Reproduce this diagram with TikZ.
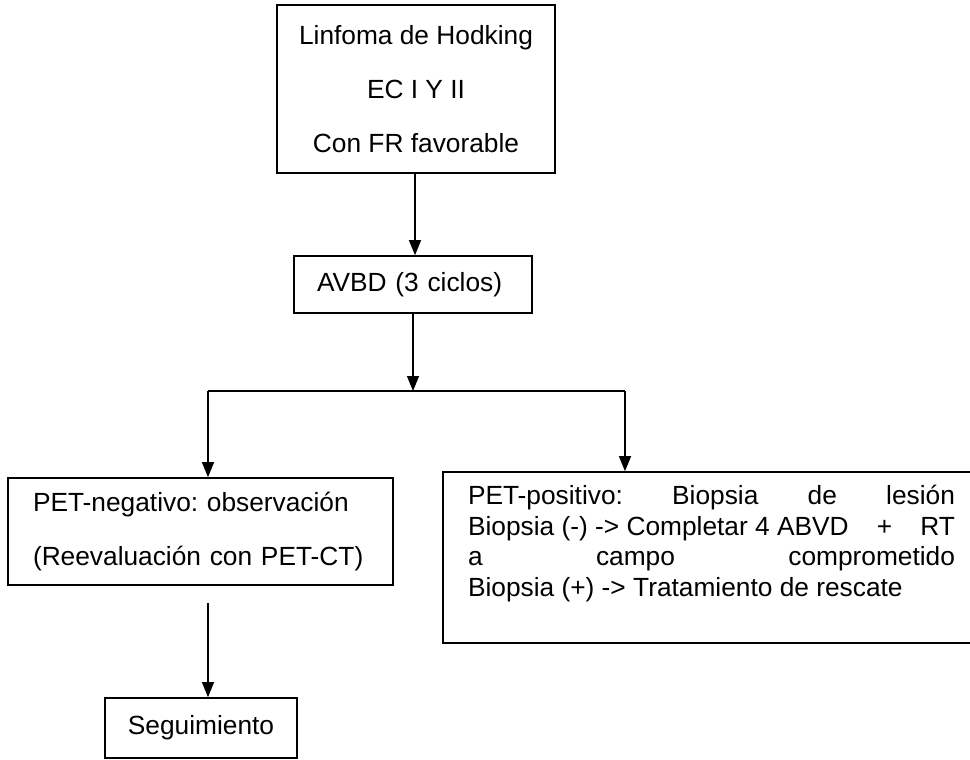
\documentclass[tikz,border=0pt]{standalone}
\usepackage{fontspec}
\setmainfont{Liberation Sans}
\frenchspacing
\usetikzlibrary{arrows.meta, positioning}

\begin{document}
\begin{tikzpicture}[x=1pt, y=-1pt,
    caja/.style={draw, line width=1.6pt, inner ysep=0pt, font=\fontsize{26.3}{30.5}\selectfont},
    doble/.style={font=\fontsize{26.3}{54}\selectfont},
    flecha/.style={line width=1.2pt, -{Triangle[length=15pt, width=12pt]}}]
    \useasboundingbox[fill=white] (0,0) rectangle (970,760);
    % cajas del algoritmo
    \node[caja, doble, minimum width=278pt, minimum height=168pt, align=center] (top) at (416,89)
      {Linfoma de Hodking\\EC I Y II\\Con FR favorable};
    \node[caja, minimum width=238pt, minimum height=57pt, text width=192pt, inner xsep=23pt, align=left] (avbd) at (413,284.5)
      {AVBD (3 ciclos)};
    \node[caja, doble, minimum height=107pt, text width=335pt, inner xsep=25pt, align=left] (neg) at (200.5,531.5)
      {PET-negativo: observación\\(Reevaluación con PET-CT)};
    \node[caja, minimum width=192pt, minimum height=60pt] (seg) at (201,728) {Seguimiento};
    % la caja derecha sale del borde
    \node[caja, minimum height=171pt, inner xsep=25pt] (pos) at (728.5,557.5)
      {\parbox[t][144pt][t]{521pt}{\raggedright\rightskip=34pt plus 1fil
        PET-positivo:\hfill Biopsia\hfill de\hfill lesión\\
        Biopsia (-) -> Completar 4 ABVD\hfill +\hfill RT\\
        a\hfill campo\hfill comprometido\\
        Biopsia (+) -> Tratamiento de rescate}};
    % conectores
    \coordinate (split) at (413,391);
    \coordinate (ramaI) at (208,391);
    \coordinate (ramaD) at (625,391);
    \coordinate (bajaI) at (208,603);
    \draw[flecha] (top.south -| 415,0) -- (avbd.north -| 415,0);
    \draw[flecha] (avbd.south) -- (split);
    \draw[line width=1.2pt] (ramaI) -- (ramaD);
    \draw[flecha] (ramaI) -- (ramaI |- neg.north);
    \draw[flecha] (ramaD) -- (ramaD |- pos.north);
    \draw[flecha] (bajaI) -- (bajaI |- seg.north);
\end{tikzpicture}
\end{document}
